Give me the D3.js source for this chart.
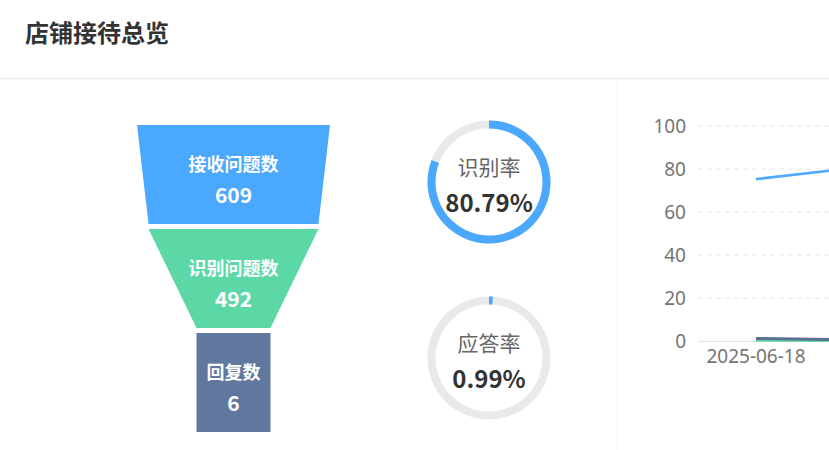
<!DOCTYPE html>
<html><head><meta charset="utf-8">
<script src="https://cdn.jsdelivr.net/npm/d3@7/dist/d3.min.js"></script>
<style>
html,body{margin:0;padding:0;background:#fff;}
svg{display:block;font-family:"Noto Sans CJK SC","Noto Sans",sans-serif;}
</style></head>
<body>
<svg id="c" width="829" height="450"></svg>
<script>
const title = "店铺接待总览";
const funnelNames = ["接收问题数", "识别问题数", "回复数"];
const funnelValues = [609, 492, 6];
const funnelColors = ["#4aa8ff", "#5bd8a6", "#61789e"];
const gaugeNames = ["识别率", "应答率"];
const gaugeValues = [80.79, 0.99];
const dates = ["2025-06-18", "2025-06-19"];
const seriesBlue = [75.3, 81.5];
const seriesGreen = [0.4, 0.1];
const seriesDark = [1.2, 0.4];
const lineColors = ["#4aa8ff", "#5bd8a6", "#5d7092"];
const yTicks = [0, 20, 40, 60, 80, 100];

const svg = d3.select("#c");

// header
svg.append("text").attr("x", 25).attr("y", 31).attr("dominant-baseline", "central")
  .attr("font-size", 24).attr("font-weight", "bold").attr("fill", "#333").text(title);
svg.append("line").attr("x1", 0).attr("x2", 829).attr("y1", 78.5).attr("y2", 78.5)
  .attr("stroke", "#ebebeb");
svg.append("line").attr("x1", 617.5).attr("x2", 617.5).attr("y1", 79).attr("y2", 450)
  .attr("stroke", "#f3f3f3");

// funnel
const fx = 233.5, fTop = 125, fBottom = 432, gap = 5;
const segH = (fBottom - fTop - gap * (funnelValues.length - 1)) / funnelValues.length;
const wScale = d3.scaleLinear().domain([d3.min(funnelValues), d3.max(funnelValues)]).range([74, 193]);
const fg = svg.append("g");
funnelValues.forEach((v, i) => {
  const y0 = fTop + i * (segH + gap), y1 = y0 + segH;
  const wt = wScale(v);
  const wb = i < funnelValues.length - 1 ? wScale(funnelValues[i + 1]) : wt;
  const pts = [[fx - wt / 2, y0], [fx + wt / 2, y0], [fx + wb / 2, y1], [fx - wb / 2, y1]];
  fg.append("path").attr("d", d3.line()(pts) + "Z").attr("fill", funnelColors[i]);
  const cy = (y0 + y1) / 2;
  fg.append("text").attr("x", fx).attr("y", cy - 12).attr("text-anchor", "middle")
    .attr("dominant-baseline", "central").attr("font-size", 18).attr("font-weight", "bold")
    .attr("fill", "#fff").text(funnelNames[i]);
  fg.append("text").attr("x", fx).attr("y", cy + 19).attr("text-anchor", "middle")
    .attr("dominant-baseline", "central").attr("font-size", 21).attr("font-weight", "bold")
    .attr("fill", "#fff").text(v);
});

// gauges
const gCenters = [[489, 182], [489, 358]];
const angle = d3.scaleLinear().domain([0, 100]).range([0, 2 * Math.PI]);
const arc = d3.arc().innerRadius(53.5).outerRadius(61.5);
gaugeValues.forEach((v, i) => {
  const g = svg.append("g").attr("transform", `translate(${gCenters[i][0]},${gCenters[i][1]})`);
  g.append("path").attr("d", arc({startAngle: 0, endAngle: 2 * Math.PI})).attr("fill", "#e9e9e9");
  g.append("path").attr("d", arc({startAngle: 0, endAngle: angle(v)})).attr("fill", "#4aa8ff");
  g.append("text").attr("y", -16).attr("text-anchor", "middle").attr("dominant-baseline", "central")
    .attr("font-size", 21).attr("fill", "#666").text(gaugeNames[i]);
  g.append("text").attr("y", 19.5).attr("text-anchor", "middle").attr("dominant-baseline", "central")
    .attr("font-size", 24).attr("font-weight", "bold").attr("fill", "#333").text(v.toFixed(2) + "%");
});

// line chart
const x0 = 698;
const xs = d3.scaleBand().domain(dates).range([x0, x0 + 116 * dates.length]).paddingInner(0).paddingOuter(0);
const ys = d3.scaleLinear().domain([0, 100]).range([341, 126]);
const lc = svg.append("g");
yTicks.forEach(t => {
  if (t > 0) lc.append("line").attr("x1", x0).attr("x2", 900).attr("y1", ys(t)).attr("y2", ys(t))
    .attr("stroke", "#e6e6e6").attr("stroke-dasharray", "5,4");
});
const yAxis = d3.axisLeft(ys).tickValues(yTicks).tickSize(0).tickPadding(12);
const ya = lc.append("g").attr("transform", `translate(${x0},0)`).call(yAxis);
ya.select(".domain").remove();
ya.selectAll("text").attr("font-size", 19).attr("fill", "#757575")
  .attr("font-family", "'Noto Sans',sans-serif");
lc.append("line").attr("x1", x0).attr("x2", 900).attr("y1", ys(0) + 0.5).attr("y2", ys(0) + 0.5)
  .attr("stroke", "#e3e3e3");
const xAxis = d3.axisBottom(xs).tickSize(0).tickPadding(9)
  .tickFormat((d, i) => i % 2 === 0 ? d : "");
const xa = lc.append("g").attr("transform", `translate(0,${ys(0)})`).call(xAxis);
xa.select(".domain").remove();
xa.selectAll("text").attr("font-size", 19).attr("fill", "#757575")
  .attr("font-family", "'Noto Sans',sans-serif");
const line = d3.line().x((d, i) => xs(dates[i]) + xs.bandwidth() / 2).y(d => ys(d));
[seriesBlue, seriesGreen, seriesDark].forEach((s, i) => {
  lc.append("path").attr("d", line(s)).attr("fill", "none").attr("stroke", lineColors[i])
    .attr("stroke-width", i === 0 ? 2.6 : 3);
});
</script>
</body></html>
